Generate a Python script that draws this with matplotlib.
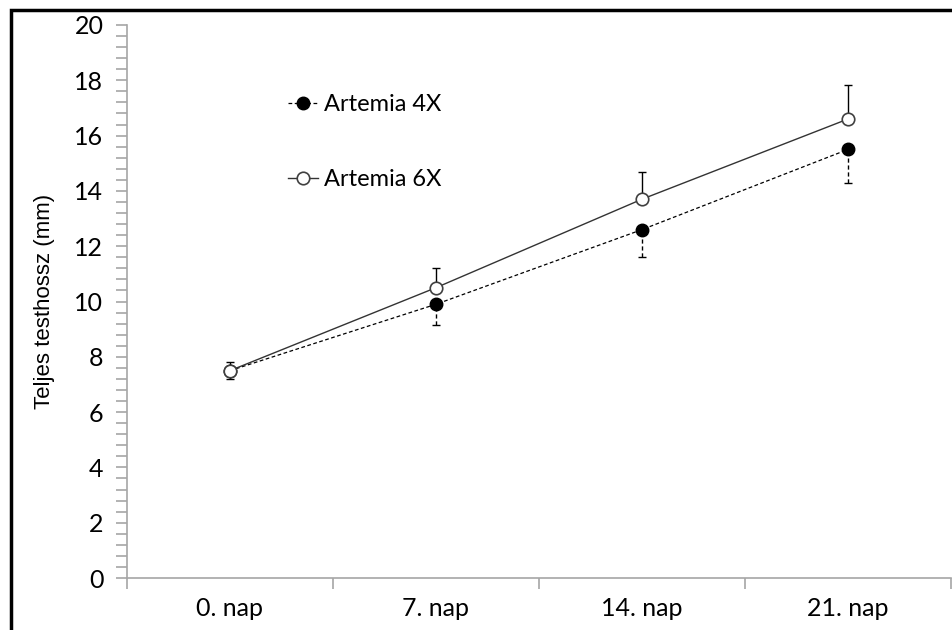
import matplotlib.pyplot as plt
from matplotlib.ticker import MultipleLocator, FixedLocator
from matplotlib.lines import Line2D
from matplotlib.patches import Rectangle
import numpy as np

# adatok
napok = ["0. nap", "7. nap", "14. nap", "21. nap"]
artemia4x = [7.5, 9.9, 12.6, 15.5]
artemia4x_err = [0.3, 0.75, 1.0, 1.2]
artemia6x = [7.5, 10.5, 13.7, 16.6]
artemia6x_err = [0.3, 0.72, 1.0, 1.23]

tick_font = ['Lato', 'DejaVu Sans']
gray = '#a6a6a6'

fig = plt.figure(figsize=(9.52, 6.3), dpi=100)
ax = fig.add_axes([127/952, 52/630, 824/952, 553/630])

x = np.arange(len(napok))

# 4X: tomor pont, szaggatott vonal, hibasav lefele
ax.plot(x, artemia4x, ls=(0, (3, 2)), color='black', lw=0.9, zorder=2)
eb = ax.errorbar(x, artemia4x, yerr=[artemia4x_err, [0]*4], fmt='none',
                 ecolor='black', elinewidth=1, capsize=3, capthick=1, zorder=2)
eb[2][0].set_linestyle((0, (3, 2)))
ax.plot(x, artemia4x, 'o', ms=9, mfc='black', mec='black', zorder=4)

# 6X: ures pont, folytonos vonal, hibasav felfele
ax.plot(x, artemia6x, ls='-', color='#333333', lw=1.0, zorder=3)
ax.errorbar(x, artemia6x, yerr=[[0]*4, artemia6x_err], fmt='none',
            ecolor='black', elinewidth=1, capsize=3, capthick=1, zorder=3)
ax.plot(x, artemia6x, 'o', ms=9, mfc='white', mec='#404040', mew=1.2, zorder=5)

ax.set_xlim(-0.5, 3.5)
ax.set_ylim(0, 20)
ax.yaxis.set_major_locator(MultipleLocator(2))
ax.yaxis.set_minor_locator(MultipleLocator(0.4))
ax.xaxis.set_major_locator(FixedLocator(x))
ax.xaxis.set_minor_locator(FixedLocator([-0.5, 0.5, 1.5, 2.5, 3.5]))
ax.set_xticklabels(napok)

for s in ['top', 'right']:
    ax.spines[s].set_visible(False)
for s in ['left', 'bottom']:
    ax.spines[s].set_color(gray)
    ax.spines[s].set_linewidth(1.2)

ax.tick_params(axis='y', which='both', direction='out', length=8, color=gray, width=1.2,
               labelsize=18, pad=9)
ax.tick_params(axis='x', which='major', length=0, labelsize=18, pad=14)
ax.tick_params(axis='x', which='minor', direction='out', length=8, color=gray, width=1.2)
for lab in ax.get_xticklabels() + ax.get_yticklabels():
    lab.set_family(tick_font)

ax.set_ylabel("Teljes testhossz (mm)", fontsize=16, family='Liberation Sans', labelpad=14)

h4 = Line2D([], [], ls=(0, (3, 2)), color='black', lw=0.9, marker='o', ms=9,
            mfc='black', mec='black')
h6 = Line2D([], [], ls='-', color='#333333', lw=1.0, marker='o', ms=9,
            mfc='white', mec='#404040', mew=1.2)
leg = ax.legend([h4, h6], ["Artemia 4X", "Artemia 6X"], loc='upper left',
                bbox_to_anchor=(0.169, 0.914), frameon=False, handlelength=1.3,
                handletextpad=0.25, labelspacing=2.31, prop={'family': tick_font, 'size': 17})

# keret a kep korul
fig.patches.append(Rectangle((11/952, -0.1), 1.2, (630 - 10)/630 + 0.1, transform=fig.transFigure,
                             fill=False, edgecolor='black', lw=2.5))

fig.savefig("out.png", dpi=100)
